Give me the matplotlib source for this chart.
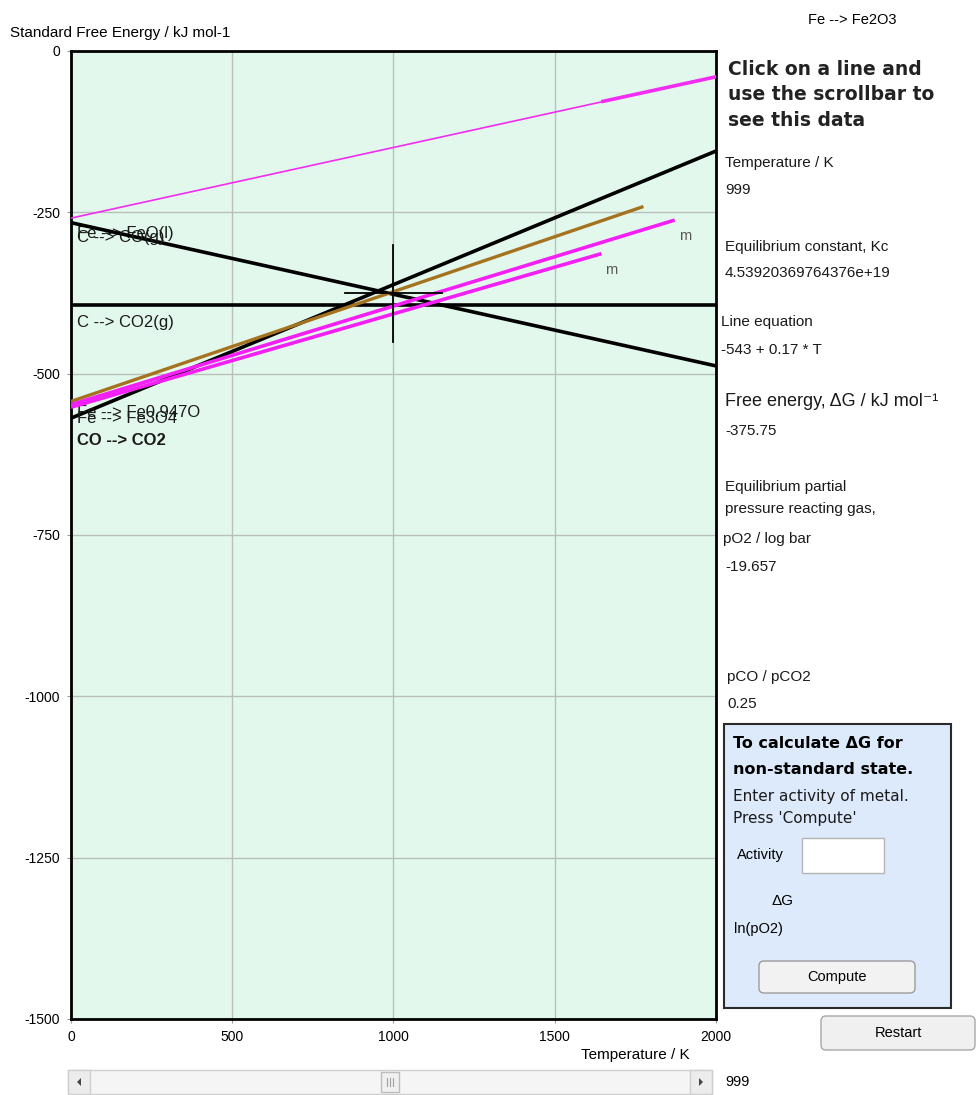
import numpy as np
import matplotlib.pyplot as plt
from matplotlib.patches import Rectangle, FancyBboxPatch, Polygon

plt.rcParams['font.family'] = ['Liberation Sans', 'DejaVu Sans']
plt.rcParams['axes.unicode_minus'] = False

# Ellingham lines: free energy (kJ per mol O2) at T = 0 and at the line end
line_labels = ['Fe --> FeO(l)', 'C --> CO(g)', 'C --> CO2(g)', 'CO --> CO2',
               'Fe --> Fe2O3', 'Fe --> Fe0.947O', 'Fe --> Fe3O4']
t_end = [2000, 2000, 2000, 2000, 1775, 1872, 1645]
g_start = [-259, -266, -394, -569, -543, -548, -552]
g_end = [-40, -488, -394, -155, -241, -262, -314]
line_colors = ['#f22cf2', '#000000', '#000000', '#000000', '#a5731f', '#f41ff4', '#f41ff4']
line_widths = [1.2, 2.6, 2.6, 2.6, 2.4, 2.6, 2.6]
label_shown = [True, True, True, True, False, True, True]

# thicker upper part of the first line
seg_t = [1650, 2000]
seg_g = [-78, -40]

# lines that stop at a melting point
melt_lines = [5, 6]

# selected point (Fe --> Fe2O3 at 999 K)
sel_t = 999
sel_g = -375.75
cross_dt = 150
cross_dg = 75

x_ticks = [0, 500, 1000, 1500, 2000]
y_ticks = [0, -250, -500, -750, -1000, -1250, -1500]

W, H = 977, 1095
fig = plt.figure(figsize=(W / 100, H / 100), dpi=100)


def box(l, t, r, b):
    return [l / W, 1 - b / H, (r - l) / W, (b - t) / H]


# label offsets (pixels) below each line's start
label_dy = {'Fe --> FeO(l)': -15, 'C --> CO(g)': -15, 'C --> CO2(g)': -17,
            'CO --> CO2': -22, 'Fe --> Fe0.947O': -8, 'Fe --> Fe3O4': -11}

# main chart
ax = fig.add_axes(box(71, 51, 716, 1019))
ax.set_facecolor('#e2f8ec')
for i in range(len(line_labels)):
    ax.plot([0, t_end[i]], [g_start[i], g_end[i]], color=line_colors[i],
            lw=line_widths[i], solid_capstyle='butt', zorder=3)
    if label_shown[i]:
        ax.annotate(line_labels[i], (0, g_start[i]), xytext=(6, label_dy[line_labels[i]]),
                    textcoords='offset pixels', va='center', fontsize=12,
                    color='#1a1a1a',
                    fontweight='bold' if line_labels[i] == 'CO --> CO2' else 'normal')
for i in melt_lines:
    ax.annotate('m', (t_end[i], g_end[i]), xytext=(10, -16), textcoords='offset pixels',
                ha='center', va='center', fontsize=10.5, color='#555555')
ax.plot(seg_t, seg_g, color=line_colors[0], lw=2.6, zorder=3)

# crosshair on the selected point
ax.plot([sel_t - cross_dt, sel_t + cross_dt], [sel_g, sel_g], color='black', lw=1.3, zorder=4)
ax.plot([sel_t, sel_t], [sel_g - cross_dg, sel_g + cross_dg], color='black', lw=1.3, zorder=4)

ax.set_xlim(0, 2000)
ax.set_ylim(-1500, 0)
ax.set_xticks(x_ticks)
ax.set_yticks(y_ticks)
ax.grid(True, color='#b8c0b9', lw=1)
ax.set_axisbelow(True)
ax.tick_params(length=3, color='#999999', pad=5, labelsize=10)
for s in ax.spines.values():
    s.set_linewidth(2)
    s.set_color('black')

# overlay in pixel units for the panel and controls
ui = fig.add_axes([0, 0, 1, 1])
ui.set_xlim(0, W)
ui.set_ylim(H, 0)
ui.axis('off')

ui.text(10, 33, 'Standard Free Energy / kJ mol-1', fontsize=11, va='center')
ui.text(690, 1055, 'Temperature / K', fontsize=11, va='center', ha='right')
ui.text(808, 20, 'Fe --> Fe2O3', fontsize=10.5, va='center')

ui.text(728, 95, 'Click on a line and\nuse the scrollbar to\nsee this data', fontsize=13.5,
        fontweight='bold', family='DejaVu Sans', color='#222222', va='center',
        linespacing=1.45)

small = [
    (725, 163, 'Temperature / K'),
    (725, 190, '999'),
    (725, 247, 'Equilibrium constant, Kc'),
    (725, 273, '4.53920369764376e+19'),
    (721, 322, 'Line equation'),
    (721, 350, '-543 + 0.17 * T'),
    (725, 431, '-375.75'),
    (725, 487, 'Equilibrium partial'),
    (725, 509, 'pressure reacting gas,'),
    (723, 539, 'pO2 / log bar'),
    (725, 567, '-19.657'),
    (727, 677, 'pCO / pCO2'),
    (727, 704, '0.25'),
]
for x, y, s in small:
    ui.text(x, y, s, fontsize=11, va='center', color='#1a1a1a')
ui.text(725, 401, 'Free energy, \u0394G / kJ mol\u207b\u00b9', fontsize=13, va='center',
        color='#1a1a1a')

# non-standard state box
ui.add_patch(Rectangle((724, 724), 227, 284, fc='#dceafc', ec='#2a2a2a', lw=1.5))
ui.text(733, 744, 'To calculate \u0394G for', fontsize=11.5, fontweight='bold',
        family='DejaVu Sans', va='center')
ui.text(733, 770, 'non-standard state.', fontsize=11.5, fontweight='bold',
        family='DejaVu Sans', va='center')
ui.text(733, 796, 'Enter activity of metal.', fontsize=11, family='DejaVu Sans',
        va='center', color='#1a1a1a')
ui.text(733, 819, 'Press \'Compute\'', fontsize=11, family='DejaVu Sans',
        va='center', color='#1a1a1a')
ui.text(737, 855, 'Activity', fontsize=10.5, va='center')
ui.add_patch(Rectangle((802, 838), 82, 35, fc='white', ec='#b5b5b5', lw=1))
ui.text(782, 901, '\u0394G', fontsize=11, va='center', ha='center')
ui.text(734, 929, 'ln(pO2)', fontsize=10.5, va='center')
ui.add_patch(FancyBboxPatch((759, 961), 156, 32, boxstyle='round,pad=0,rounding_size=5',
                            fc='#f2f2f2', ec='#9c9c9c', lw=1))
ui.text(837, 977, 'Compute', fontsize=10.5, va='center', ha='center')

ui.add_patch(FancyBboxPatch((821, 1016), 154, 34, boxstyle='round,pad=0,rounding_size=5',
                            fc='#f0f0f0', ec='#a8a8a8', lw=1))
ui.text(898, 1033, 'Restart', fontsize=10.5, va='center', ha='center')

# temperature scrollbar
ui.add_patch(Rectangle((68, 1070), 644, 24, fc='#f5f5f5', ec='#cfcfcf', lw=1))
ui.add_patch(Rectangle((68, 1070), 22, 24, fc='#ececec', ec='#cfcfcf', lw=1))
ui.add_patch(Rectangle((690, 1070), 22, 24, fc='#ececec', ec='#cfcfcf', lw=1))
ui.add_patch(Polygon([(81, 1078), (81, 1086), (77, 1082)], closed=True, fc='#444444', ec='none'))
ui.add_patch(Polygon([(699, 1078), (699, 1086), (703, 1082)], closed=True, fc='#444444', ec='none'))
thumb_x = 90 + sel_t / 2000 * (600 - 18)
ui.add_patch(Rectangle((thumb_x, 1072), 18, 20, fc='#f0f0f0', ec='#bdbdbd', lw=1))
for dx in (6, 9, 12):
    ui.plot([thumb_x + dx, thumb_x + dx], [1078, 1086], color='#a0a0a0', lw=0.8)
ui.text(725, 1082, str(sel_t), fontsize=10.5, va='center')

fig.savefig('out.png', dpi=100)
